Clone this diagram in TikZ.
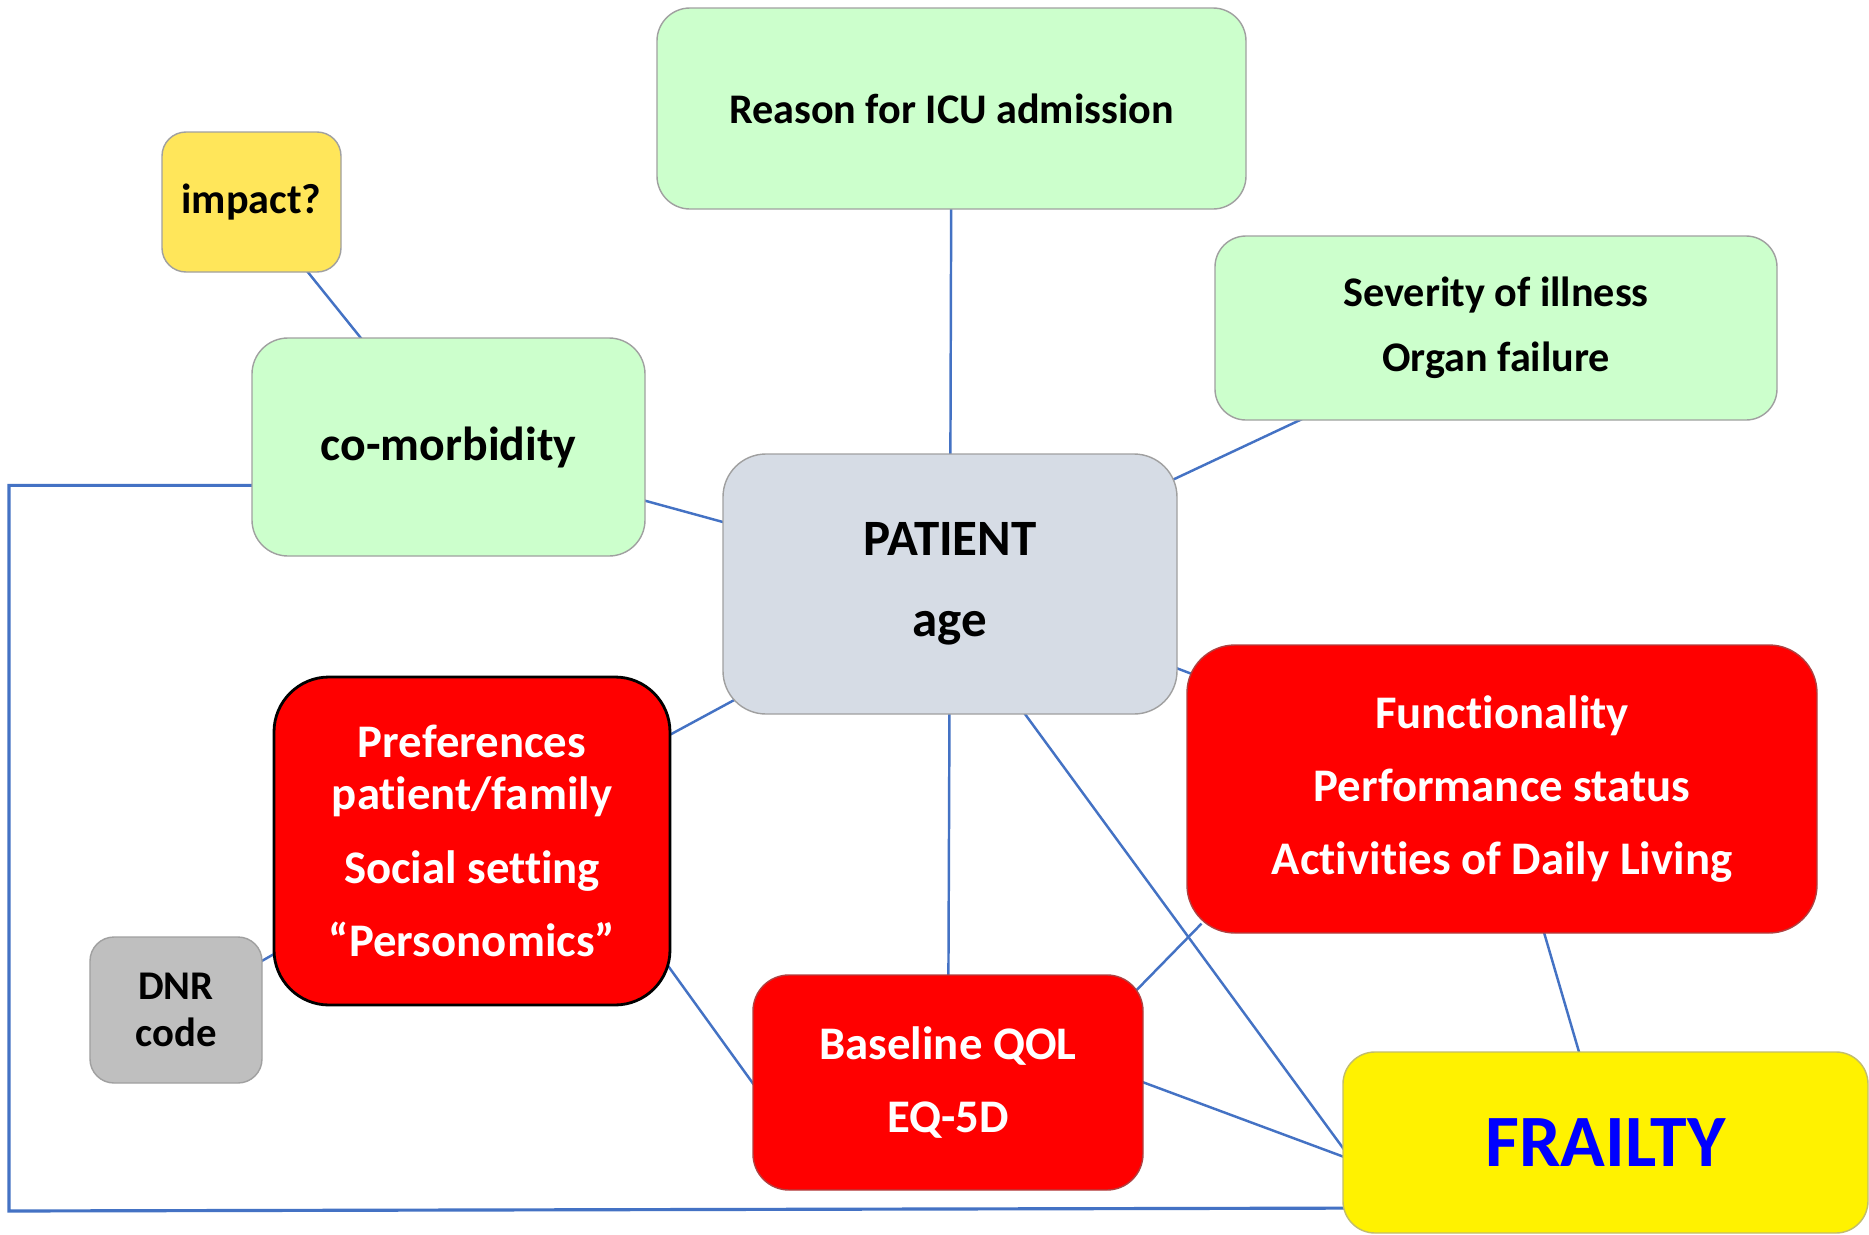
\documentclass[tikz,border=0pt]{standalone}
\usepackage{fontspec}
\setmainfont{Carlito}[RawFeature={-liga;-clig;-dlig}]
\usetikzlibrary{backgrounds}

\definecolor{greenfill}{HTML}{CCFFCC}
\definecolor{impactfill}{HTML}{FFE65A}
\definecolor{patientfill}{HTML}{D6DCE5}
\definecolor{dnrfill}{HTML}{BFBFBF}
\definecolor{boxgray}{HTML}{A0A0A0}
\definecolor{redline}{HTML}{B04040}
\definecolor{linkblue}{HTML}{4472C4}
\definecolor{frailblue}{HTML}{0000FF}

\begin{document}
\begin{tikzpicture}[
    box/.style={draw=boxgray, line width=0.4pt, inner sep=0pt, align=center, font=\bfseries\fontsize{12}{18.5}\selectfont},
    greenbox/.style={box, fill=greenfill, rounded corners=0.33cm},
    redbox/.style={box, fill=red, draw=redline, text=white, font=\bfseries\fontsize{13.3}{20.8}\selectfont},
    link/.style={draw=linkblue, line width=0.7pt, shorten <=-4pt, shorten >=-4pt}
]
    \useasboundingbox (0,0) rectangle (18.69,-12.35);
    \node[greenbox, minimum width=5.89cm, minimum height=2.01cm] (reason) at (9.515,-1.085) {Reason for ICU admission};
    \node[box, fill=impactfill, rounded corners=0.24cm, minimum width=1.79cm, minimum height=1.40cm] (impact) at (2.515,-2.02) {impact?};
    \node[greenbox, rounded corners=0.36cm, minimum width=3.93cm, minimum height=2.18cm, font=\bfseries\fontsize{13.6}{16}\selectfont] (comorb) at (4.485,-4.47) {co-morbidity};
    \node[greenbox, rounded corners=0.31cm, minimum width=5.62cm, minimum height=1.84cm] (severity) at (14.96,-3.28) {Severity of illness\\Organ failure};
    \node[box, fill=patientfill, rounded corners=0.43cm, minimum width=4.54cm, minimum height=2.60cm, font=\bfseries\fontsize{14.5}{23}\selectfont] (patient) at (9.50,-5.84) {PATIENT\\age};
    \node[redbox, draw=black, line width=0.8pt, rounded corners=0.55cm, minimum width=3.96cm, minimum height=3.28cm] (pref) at (4.72,-8.41) {Preferences\\[-6pt]patient/family\\Social setting\\“Personomics”};
    \node[box, fill=dnrfill, rounded corners=0.24cm, minimum width=1.72cm, minimum height=1.46cm, font=\bfseries\fontsize{11.6}{13.4}\selectfont] (dnr) at (1.76,-10.10) {DNR\\code};
    \node[redbox, rounded corners=0.48cm, minimum width=6.30cm, minimum height=2.88cm] (func) at (15.02,-7.89) {Functionality\\Performance status\\Activities of Daily Living};
    \node[redbox, rounded corners=0.36cm, minimum width=3.90cm, minimum height=2.15cm] (base) at (9.48,-10.825) {Baseline QOL\\EQ-5D};
    \node[box, fill=yellow, draw=yellow!45!gray, rounded corners=0.32cm, minimum width=5.25cm, minimum height=1.81cm, text=frailblue, font=\bfseries\fontsize{21}{24}\selectfont] (frailty) at (16.055,-11.425) {FRAILTY};
    \coordinate (corner) at (0.09,-12.11);
    \begin{scope}[on background layer]
        \fill[white] (0,0) rectangle (18.69,-12.35);
        \draw[link] (impact) -- (comorb);
        \draw[link] (comorb) -- (patient);
        \draw[link] (reason) -- (patient);
        \draw[link] (severity) -- (patient);
        \draw[link] (patient) -- (func);
        \draw[link] (patient) -- (pref);
        \draw[link] (patient) -- (base);
        \draw[link] (patient.-60) -- (frailty.181);
        \draw[link] (base.east) -- (frailty.183);
        \draw[link] (base.27.5) -- (func.205.7);
        \draw[link] (pref.-33.8) -- (base.west);
        \draw[link] (dnr) -- (pref);
        \draw[link] (func) -- (frailty);
        \draw[link, line width=0.9pt] (comorb.191.8) -| (corner) -- (frailty.194.6);
    \end{scope}
\end{tikzpicture}
\end{document}
